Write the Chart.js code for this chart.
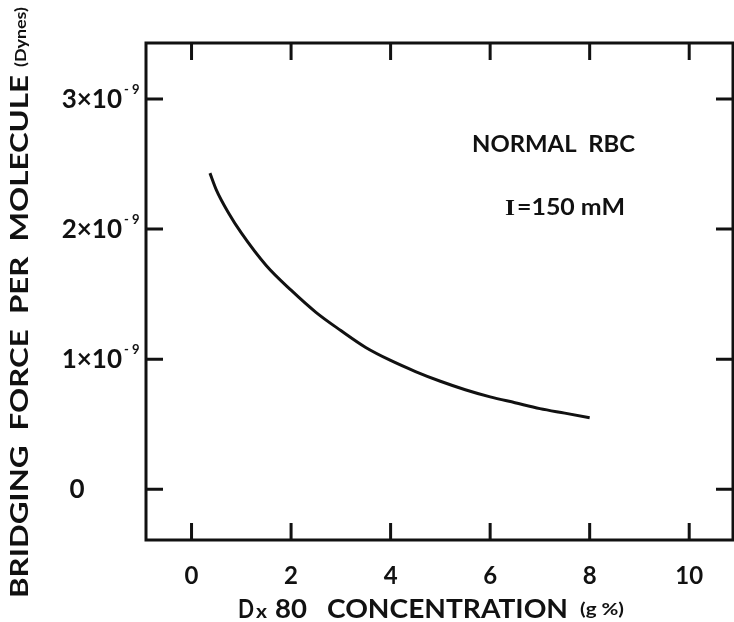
<!DOCTYPE html>
<html>
<head>
<meta charset="utf-8">
<script src="https://cdn.jsdelivr.net/npm/chart.js@4.4.1/dist/chart.umd.min.js"></script>
<style>
  html, body { margin: 0; padding: 0; background: #fff; }
  #wrap { width: 734px; height: 622px; position: relative; }
</style>
</head>
<body>
<div id="wrap"><canvas id="chart"></canvas></div>
<script>
"use strict";

/* =========================================================================
  Data (force in units of 1e-9 dynes)
=========================================================================== */
const concentration = [0.37, 0.5, 0.75, 1, 1.5, 2, 2.5, 3, 3.5, 4, 4.5, 5, 5.5, 6, 6.5, 7, 7.5, 8];
const bridgingForce = [2.43, 2.30, 2.12, 1.97, 1.72, 1.53, 1.36, 1.22, 1.09, 0.99, 0.905, 0.83, 0.765, 0.71, 0.665, 0.62, 0.585, 0.55];

const xTicks = [0, 2, 4, 6, 8, 10];
const yTicks = [0, 1, 2, 3];
const yTickLabels = ["0", "1×10", "2×10", "3×10"];
const yTickExponent = "- 9";

const FONT = "Lato, 'Open Sans', sans-serif";
const INK = "#111";

/* =========================================================================
  Text helper: draw text scaled horizontally to a given width
=========================================================================== */
function drawWide(ctx, text, x, y, width, font) {
  ctx.font = font;
  ctx.textAlign = "left";
  const natural = ctx.measureText(text).width;
  ctx.save();
  ctx.translate(x, y);
  ctx.scale(width / natural, 1);
  ctx.fillText(text, 0, 0);
  ctx.restore();
}

/* =========================================================================
  Frame, inward ticks and text
=========================================================================== */
const framePlugin = {
  id: "frame",
  afterDraw(chart) {
    const { ctx, chartArea: a, scales } = chart;
    const sx = scales.x, sy = scales.y;
    const tickLen = 17;

    ctx.save();
    ctx.strokeStyle = INK;
    ctx.fillStyle = INK;
    ctx.lineWidth = 3;
    ctx.strokeRect(a.left, a.top, a.right - a.left, a.bottom - a.top);

    ctx.beginPath();
    xTicks.forEach((v) => {
      const px = sx.getPixelForValue(v);
      ctx.moveTo(px, a.bottom);
      ctx.lineTo(px, a.bottom - tickLen);
      ctx.moveTo(px, a.top);
      ctx.lineTo(px, a.top + tickLen);
    });
    yTicks.forEach((v) => {
      const py = sy.getPixelForValue(v);
      ctx.moveTo(a.left, py);
      ctx.lineTo(a.left + tickLen, py);
      ctx.moveTo(a.right, py);
      ctx.lineTo(a.right - tickLen, py);
    });
    ctx.stroke();

    // x tick labels
    ctx.textBaseline = "alphabetic";
    ctx.textAlign = "center";
    ctx.font = `bold 24px ${FONT}`;
    xTicks.forEach((v) => {
      ctx.fillText(String(v), sx.getPixelForValue(v), 584);
    });

    // y tick labels with superscript exponent
    yTicks.forEach((v, i) => {
      const py = sy.getPixelForValue(v);
      ctx.font = `bold 26px ${FONT}`;
      if (v === 0) {
        ctx.textAlign = "center";
        ctx.fillText(yTickLabels[i], 77, py + 9);
        return;
      }
      ctx.textAlign = "right";
      ctx.fillText(yTickLabels[i], 122, py + 9);
      ctx.textAlign = "left";
      ctx.font = `bold 13px ${FONT}`;
      ctx.fillText(yTickExponent, 124, py - 5);
    });

    // x axis title
    drawWide(ctx, "D", 238, 618, 16, `bold 27px ${FONT}`);
    drawWide(ctx, "x", 256, 618, 11, `bold 18px ${FONT}`);
    drawWide(ctx, "80", 275, 618, 32, `bold 27px ${FONT}`);
    drawWide(ctx, "CONCENTRATION", 327, 618, 241, `bold 27px ${FONT}`);
    drawWide(ctx, "(g %)", 580, 615, 44, `bold 17px ${FONT}`);

    // y axis title (rotated)
    ctx.save();
    ctx.translate(28, 0);
    ctx.rotate(-Math.PI / 2);
    drawWide(ctx, "BRIDGING  FORCE  PER  MOLECULE", -598, 0, 523, `bold 25px ${FONT}`);
    drawWide(ctx, "(Dynes)", -67, -2, 60, `bold 16px ${FONT}`);
    ctx.restore();

    // annotation
    drawWide(ctx, "NORMAL  RBC", 472, 152, 163, `bold 23px ${FONT}`);
    drawWide(ctx, "I", 505, 215, 10, "bold 24px 'Liberation Serif', serif");
    drawWide(ctx, "=150 mM", 517, 215, 108, `bold 23px ${FONT}`);

    ctx.restore();
  },
};

/* =========================================================================
  Chart
=========================================================================== */
new Chart(document.getElementById("chart"), {
  type: "scatter",
  data: {
    datasets: [
      {
        data: concentration.map((x, i) => ({ x, y: bridgingForce[i] })),
        showLine: true,
        borderColor: INK,
        borderWidth: 3,
        pointRadius: 0,
        cubicInterpolationMode: "monotone",
        fill: false,
      },
    ],
  },
  options: {
    responsive: true,
    maintainAspectRatio: false,
    animation: false,
    layout: { padding: { left: 146, top: 43, right: 1, bottom: 82 } },
    scales: {
      x: { type: "linear", min: -0.915, max: 10.88, display: false },
      y: { type: "linear", min: -0.39, max: 3.43, display: false },
    },
    plugins: { legend: { display: false }, tooltip: { enabled: false } },
  },
  plugins: [framePlugin],
});
</script>
</body>
</html>
